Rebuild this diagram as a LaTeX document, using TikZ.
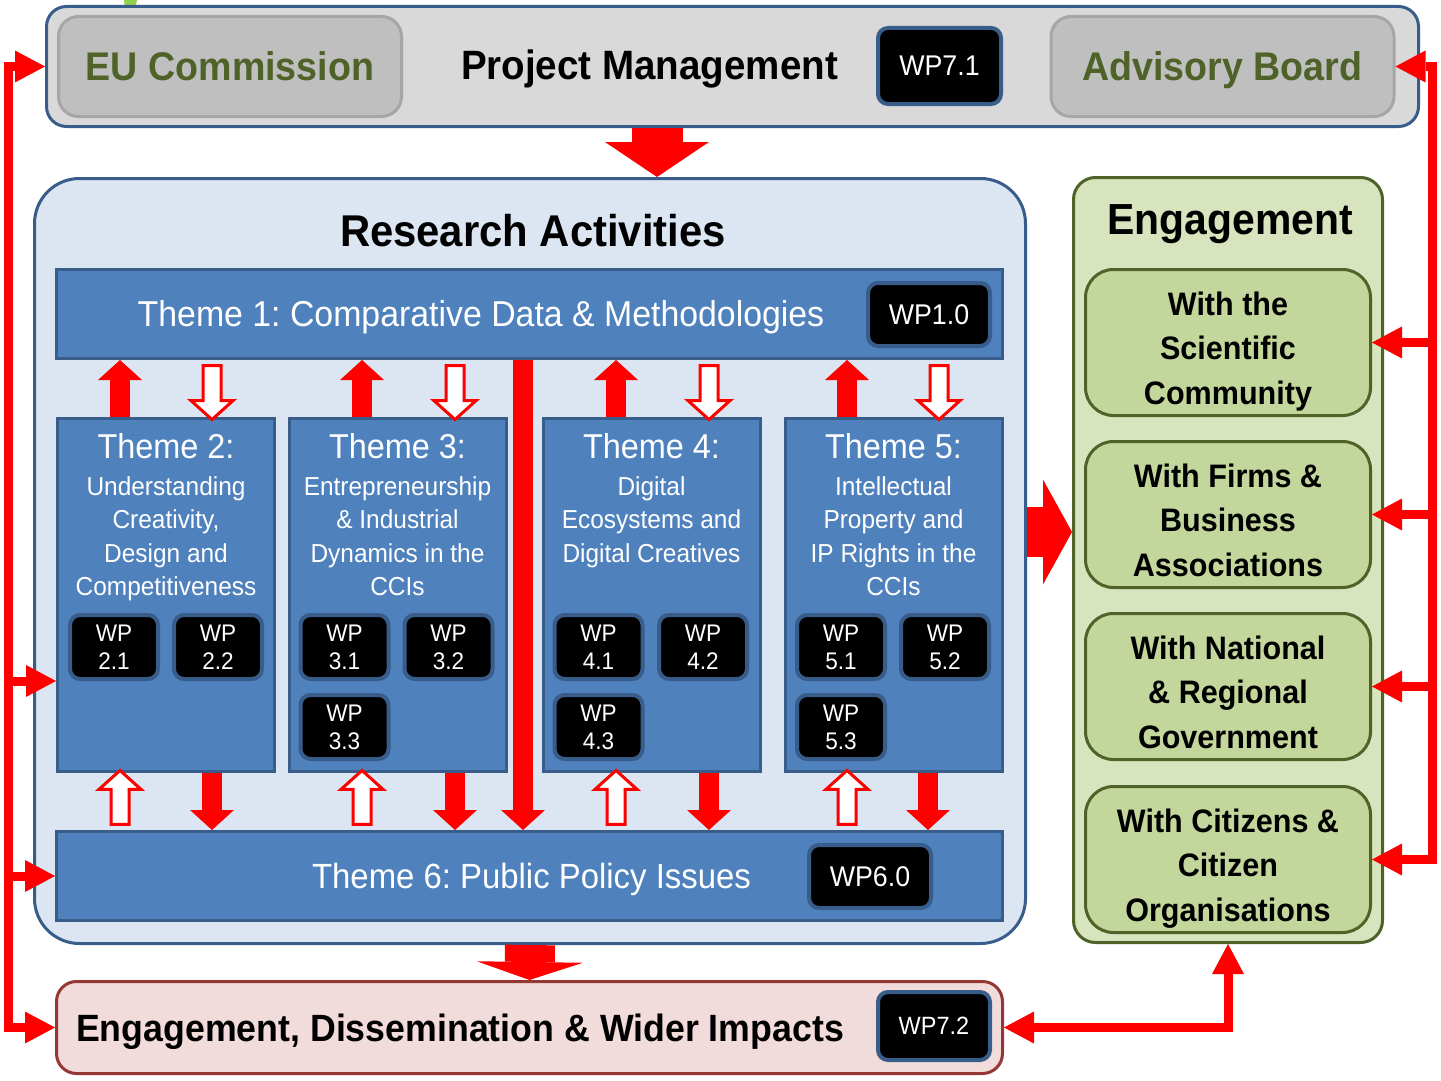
\documentclass[tikz,border=0pt]{standalone}
\usepackage{fontspec}
\setmainfont{Liberation Sans}[FakeStretch=0.94]
\usetikzlibrary{arrows.meta,shapes.arrows}
\frenchspacing

\definecolor{pmgray}{HTML}{D9D9D9}
\definecolor{boardgray}{HTML}{BFBFBF}
\definecolor{boardedge}{HTML}{A6A6A6}
\definecolor{boardtext}{HTML}{4F6228}
\definecolor{navyedge}{HTML}{385D8A}
\definecolor{resblue}{HTML}{DCE6F2}
\definecolor{themeblue}{HTML}{4F81BD}
\definecolor{engfill}{HTML}{D7E4BD}
\definecolor{engsub}{HTML}{C3D69B}
\definecolor{edifill}{HTML}{F2DCDB}
\definecolor{ediedge}{HTML}{953735}
\definecolor{tickgreen}{HTML}{92D050}

\newcommand\fsz[2]{\fontsize{#1}{#2}\selectfont}

\tikzset{
  linktip/.tip={Triangle[length=30pt,width=32pt,line width=0pt]},
}

\begin{document}
\begin{tikzpicture}[x=1pt,y=-1pt,
    every node/.style={inner sep=0pt},
    plate/.style={rounded corners=20pt,line width=3pt},
    board/.style={plate,fill=boardgray,draw=boardedge,minimum width=343pt,minimum height=100pt,
      text=boardtext,text depth=0pt,font=\fsz{40}{48}\bfseries},
    wpbox/.style={fill=black,draw=navyedge,line width=4pt,rounded corners=10pt,text=white},
    wpsmall/.style={wpbox,minimum width=88pt,minimum height=64pt,align=center,font=\fsz{24}{28}},
    theme/.style={fill=themeblue,draw=navyedge,line width=3pt,minimum width=217pt,minimum height=353pt},
    bar/.style={fill=themeblue,draw=navyedge,line width=3pt,minimum width=946pt,minimum height=89pt},
    whitetext/.style={text=white,align=center},
    engbox/.style={fill=engsub,draw=boardtext,line width=3pt,rounded corners=28pt,
      minimum width=285pt,minimum height=146pt},
    engtext/.style={anchor=north,align=center,font=\fsz{32.5}{44.5}\bfseries},
    flow/.style={draw=red,line width=20pt,-{Triangle[length=20pt,width=44pt,line width=0pt]}},
    hollow/.style={single arrow,draw=red,fill=white,line width=3pt,inner xsep=0pt,inner ysep=7.5pt,
      single arrow head extend=12pt,single arrow tip angle=96,minimum height=54pt},
    link/.style={draw=red,line width=9pt},
  ]
  \useasboundingbox (0,0) rectangle (1441,1081);
  \fill[tickgreen] (124,0) -- (137,0) -- (135,9) -- (125,9) -- cycle;

  % management row
  \node[plate,fill=pmgray,draw=navyedge,minimum width=1372pt,minimum height=120pt] (pm) at (732.5,66.5) {};
  \node[board] (eu) at (230,66.5) {EU Commission};
  \node[board] (adv) at (1222.5,66.5) {Advisory Board};
  \node[anchor=base,font=\fsz{41}{48}\bfseries] (pmtext) at (649.5,80) {Project Management};
  \node[wpbox,minimum width=123pt,minimum height=76pt,font=\fsz{28.5}{34}] (wp71) at (939.5,66) {WP7.1};

  % research activities
  \node[plate,rounded corners=45pt,fill=resblue,draw=navyedge,minimum width=991pt,minimum height=765pt] (res) at (530,561) {};
  \node[anchor=base,font=\fsz{44.5}{52}\bfseries] (restext) at (533,246) {Research Activities};
  \node[bar] (t1) at (529.5,314) {};
  \node[whitetext,anchor=base,font=\fsz{36}{42}] (t1text) at (481,326) {Theme 1: Comparative Data \& Methodologies};
  \node[wpbox,minimum width=122pt,minimum height=63pt,font=\fsz{28.5}{34}] (wp10) at (929,314.5) {WP1.0};

  \foreach \t/\x/\head/\sub in {
      2/166/{Theme 2:}/{Understanding\\Creativity,\\Design and\\Competitiveness},
      3/397.5/{Theme 3:}/{Entrepreneurship\\\& Industrial\\Dynamics in the\\CCIs},
      4/651.5/{Theme 4:}/{Digital\\Ecosystems and\\Digital Creatives},
      5/893.5/{Theme 5:}/{Intellectual\\Property and\\IP Rights in the\\CCIs}}
  {
    \node[theme] (t\t) at (\x,595) {};
    \node[whitetext,anchor=base,font=\fsz{34.5}{40}] (th\t) at (\x,458) {\head};
    \node[whitetext,anchor=north,font=\fsz{26}{33.5}] (ts\t) at (\x,476.3) {\sub};
  }
  \foreach \a/\b/\x/\y in {2/1/114/647, 2/2/218/647, 3/1/344.5/647, 3/2/448.5/647, 3/3/344.5/727,
      4/1/598.5/647, 4/2/703/647, 4/3/598.5/727, 5/1/841/647, 5/2/945/647, 5/3/841/727}
    \node[wpsmall] (w\a\b) at (\x,\y) {WP\\\a.\b};

  \node[bar] (t6) at (529.5,876) {};
  \node[whitetext,anchor=base,font=\fsz{35}{42}] (t6text) at (531.5,888) {Theme 6: Public Policy Issues};
  \node[wpbox,minimum width=122pt,minimum height=63pt,font=\fsz{28.5}{34}] (wp60) at (870,876.5) {WP6.0};

  % engagement column
  \node[plate,rounded corners=22pt,fill=engfill,draw=boardtext,minimum width=309pt,minimum height=765pt] (eng) at (1228,560) {};
  \node[anchor=base,font=\fsz{43.5}{50}\bfseries] (engtext) at (1230,234) {Engagement};
  \foreach \k/\y/\txt in {
      1/342.5/{With the\\Scientific\\Community},
      2/514.5/{With Firms \&\\Business\\Associations},
      3/686.5/{With National\\\& Regional\\Government},
      4/859.5/{With Citizens \&\\Citizen\\Organisations}}
  {
    \node[engbox] (e\k) at (1228,\y) {};
    \node[engtext] (et\k) at (1228,\y-51) {\txt};
  }

  % dissemination
  \node[plate,fill=edifill,draw=ediedge,minimum width=946pt,minimum height=92pt] (edi) at (529.5,1027.5) {};
  \node[anchor=base,font=\fsz{38}{44}\bfseries] (editext) at (460,1041) {Engagement, Dissemination \& Wider Impacts};
  \node[wpbox,minimum width=112pt,minimum height=68pt,font=\fsz{25}{30}] (wp72) at (934,1026) {WP7.2};

  % big flows
  \coordinate (pmdrop) at (657,0);
  \coordinate (engfeed) at (0,532);
  \draw[draw=red,line width=51pt,-{Triangle[length=35pt,width=104pt,line width=0pt]}]
    (pm.south -| pmdrop) -- (res.north -| pmdrop);
  \draw[draw=red,line width=50pt,-{Triangle[length=18pt,width=106pt,line width=0pt]}]
    (res.south) -- (edi.north);
  \draw[draw=red,line width=50pt,-{Triangle[length=29pt,width=105pt,line width=0pt]}]
    (res.east |- engfeed) -- (eng.west |- engfeed);

  % flows between themes
  \foreach \t/\u/\d/\e in {2/120/212/212, 3/362/455/455, 4/616/709/709, 5/847/939/928}
  {
    \coordinate (up\t) at (\u,0);
    \coordinate (dn\t) at (\d,0);
    \coordinate (back\t) at (\e,0);
    \draw[flow] (t\t.north -| up\t) -- (t1.south -| up\t);
    \path (t1.south -| dn\t) -- node[hollow,rotate=-90] {} (t\t.north -| dn\t);
    \path (t6.north -| up\t) -- node[hollow,rotate=90] {} (t\t.south -| up\t);
    \draw[flow] (t\t.south -| back\t) -- (t6.north -| back\t);
  }
  \coordinate (spine) at (523,0);
  \draw[flow] (t1.south -| spine) -- (t6.north -| spine);

  % outer links
  \coordinate (lft) at (8,0);
  \coordinate (rgt) at (1432,0);
  \draw[link,linktip-linktip] (pm.west) -| (lft |- edi.west) -- (edi.west);
  \draw[link,-linktip] (lft |- w21.south) -- (t2.west |- w21.south);
  \draw[link,-linktip] (lft |- t6.west) -- (t6.west);
  \draw[link,linktip-linktip] (adv.east) -| (rgt |- e4.east) -- (e4.east);
  \foreach \k in {1,2,3}
    \draw[link,-linktip] (rgt |- e\k.east) -- (e\k.east);
  \draw[link,linktip-linktip] (edi.east) -| (eng.south);
\end{tikzpicture}
\end{document}
